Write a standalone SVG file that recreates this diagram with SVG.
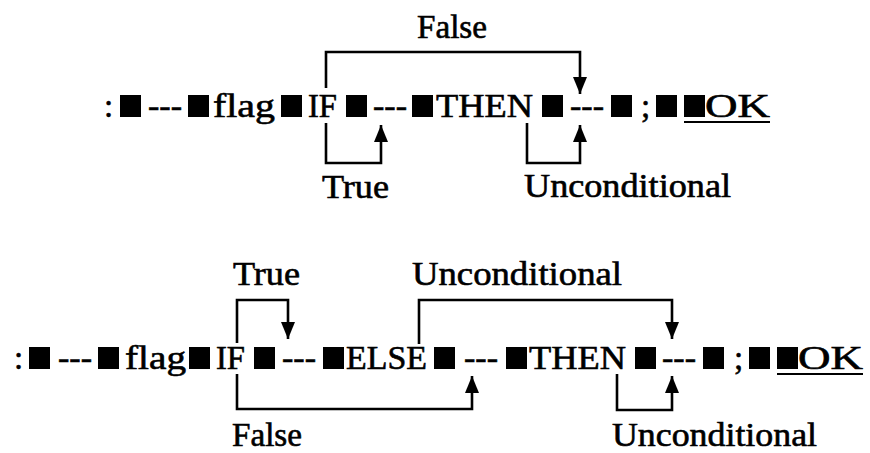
<svg xmlns="http://www.w3.org/2000/svg" width="870" height="453" viewBox="0 0 870 453">
  <style>
    text { font-family: "Liberation Serif", "Times New Roman", serif; font-size: 33px; fill: #000; stroke: #000; stroke-width: 0.6; }
    .sq { fill: #000; }
    .ln { fill: none; stroke: #000; stroke-width: 2.6; }
    .ul { stroke: #000; stroke-width: 2.2; }
  </style>
  <defs>
    <marker id="ah" viewBox="0 0 17 14" markerWidth="17" markerHeight="14" refX="17" refY="7" orient="auto" markerUnits="userSpaceOnUse">
      <path d="M0,0 L17,7 L0,14 z" fill="#000"/>
    </marker>
  </defs>
  <rect width="870" height="453" fill="#fff"/>

  <g id="line1">
    <text x="104" y="117">:</text>
    <rect class="sq" x="120" y="95" width="21" height="22"/>
    <text x="148" y="117" textLength="34" lengthAdjust="spacingAndGlyphs">---</text>
    <rect class="sq" x="188" y="95" width="21" height="22"/>
    <text x="213" y="117" textLength="62" lengthAdjust="spacingAndGlyphs">flag</text>
    <rect class="sq" x="281" y="95" width="21" height="22"/>
    <text x="308" y="117" textLength="29" lengthAdjust="spacingAndGlyphs">IF</text>
    <rect class="sq" x="346" y="95" width="21" height="22"/>
    <text x="373" y="117" textLength="34" lengthAdjust="spacingAndGlyphs">---</text>
    <rect class="sq" x="412" y="95" width="21" height="22"/>
    <text x="436" y="117" textLength="97" lengthAdjust="spacingAndGlyphs">THEN</text>
    <rect class="sq" x="542" y="95" width="21" height="22"/>
    <text x="570" y="117" textLength="34" lengthAdjust="spacingAndGlyphs">---</text>
    <rect class="sq" x="611" y="95" width="21" height="22"/>
    <text x="641" y="117">;</text>
    <rect class="sq" x="656" y="95" width="21" height="22"/>
    <rect class="sq" x="684" y="95" width="21" height="22"/>
    <text x="705" y="117" textLength="65" lengthAdjust="spacingAndGlyphs">OK</text>
    <line class="ul" x1="684" y1="122" x2="770" y2="122"/>
  </g>

  <g id="line2">
    <text x="14" y="369">:</text>
    <rect class="sq" x="29" y="347" width="21" height="22"/>
    <text x="58" y="369" textLength="34" lengthAdjust="spacingAndGlyphs">---</text>
    <rect class="sq" x="98" y="347" width="21" height="22"/>
    <text x="125" y="369" textLength="61" lengthAdjust="spacingAndGlyphs">flag</text>
    <rect class="sq" x="189" y="347" width="21" height="22"/>
    <text x="216" y="369" textLength="29" lengthAdjust="spacingAndGlyphs">IF</text>
    <rect class="sq" x="254" y="347" width="21" height="22"/>
    <text x="282" y="369" textLength="34" lengthAdjust="spacingAndGlyphs">---</text>
    <rect class="sq" x="323" y="347" width="21" height="22"/>
    <text x="346" y="369" textLength="81" lengthAdjust="spacingAndGlyphs">ELSE</text>
    <rect class="sq" x="434" y="347" width="21" height="22"/>
    <text x="464" y="369" textLength="34" lengthAdjust="spacingAndGlyphs">---</text>
    <rect class="sq" x="506" y="347" width="21" height="22"/>
    <text x="529" y="369" textLength="97" lengthAdjust="spacingAndGlyphs">THEN</text>
    <rect class="sq" x="635" y="347" width="21" height="22"/>
    <text x="662" y="369" textLength="34" lengthAdjust="spacingAndGlyphs">---</text>
    <rect class="sq" x="703" y="347" width="21" height="22"/>
    <text x="734" y="369">;</text>
    <rect class="sq" x="749" y="347" width="21" height="22"/>
    <rect class="sq" x="777" y="347" width="21" height="22"/>
    <text x="798" y="369" textLength="65" lengthAdjust="spacingAndGlyphs">OK</text>
    <line class="ul" x1="777" y1="374" x2="863" y2="374"/>
  </g>

  <g id="labels">
    <text id="l1-false" x="417" y="38" textLength="70" lengthAdjust="spacingAndGlyphs">False</text>
    <text id="l1-true" x="322" y="198" textLength="67" lengthAdjust="spacingAndGlyphs">True</text>
    <text id="l1-uncond" x="524" y="197" textLength="207" lengthAdjust="spacingAndGlyphs">Unconditional</text>
    <text id="l2-true" x="233" y="285" textLength="67" lengthAdjust="spacingAndGlyphs">True</text>
    <text id="l2-uncond-top" x="412" y="285" textLength="210" lengthAdjust="spacingAndGlyphs">Unconditional</text>
    <text id="l2-false" x="232" y="446" textLength="70" lengthAdjust="spacingAndGlyphs">False</text>
    <text id="l2-uncond-bot" x="612" y="446" textLength="205" lengthAdjust="spacingAndGlyphs">Unconditional</text>
  </g>

  <g id="connectors">
    <path class="ln" d="M326,88 V52 H580 V94" marker-end="url(#ah)"/>
    <path class="ln" d="M326,123 V163 H381 V125" marker-end="url(#ah)"/>
    <path class="ln" d="M527,123 V163 H580 V125" marker-end="url(#ah)"/>
    <path class="ln" d="M237,343 V300 H288 V339" marker-end="url(#ah)"/>
    <path class="ln" d="M419,344 V300 H672 V339" marker-end="url(#ah)"/>
    <path class="ln" d="M237,374 V409 H472 V376" marker-end="url(#ah)"/>
    <path class="ln" d="M617,374 V410 H672 V376" marker-end="url(#ah)"/>
  </g>
</svg>
